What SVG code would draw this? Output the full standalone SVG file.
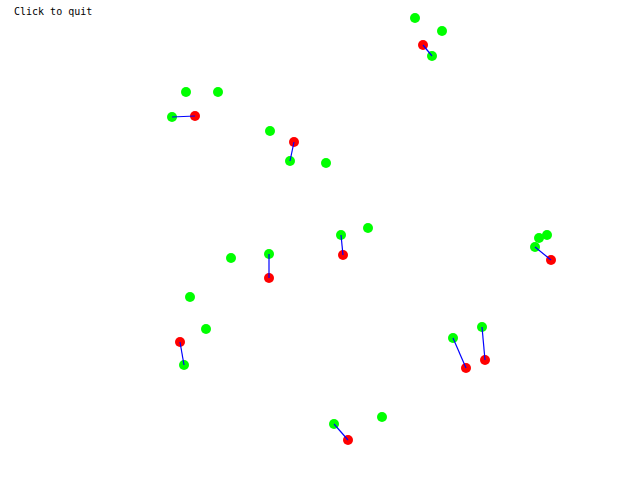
<svg xmlns="http://www.w3.org/2000/svg" width="640" height="480" viewBox="0 0 640 480">
<style>
.g{fill:#00ff00}
.r{fill:#ff0000}
.c line{stroke:#0000ff;stroke-width:1.2}
.t{font-family:"DejaVu Sans Mono","Liberation Mono",monospace;font-size:10px;fill:#000}
</style>
<rect width="640" height="480" fill="#fff"/>
<text class="t" x="14" y="14.5">Click to quit</text>
<g id="n1"><circle class="g" cx="415" cy="18" r="5"/></g>
<g id="n2"><circle class="g" cx="442" cy="31" r="5"/></g>
<g id="n3"><circle class="r" cx="423" cy="45" r="5"/></g>
<g id="n4"><circle class="g" cx="432" cy="56" r="5"/></g>
<g id="n5"><circle class="g" cx="186" cy="92" r="5"/></g>
<g id="n6"><circle class="g" cx="218" cy="92" r="5"/></g>
<g id="n7"><circle class="g" cx="172" cy="117" r="5"/></g>
<g id="n8"><circle class="r" cx="195" cy="116" r="5"/></g>
<g id="n9"><circle class="g" cx="270" cy="131" r="5"/></g>
<g id="n10"><circle class="r" cx="294" cy="142" r="5"/></g>
<g id="n11"><circle class="g" cx="290" cy="161" r="5"/></g>
<g id="n12"><circle class="g" cx="326" cy="163" r="5"/></g>
<g id="n13"><circle class="g" cx="231" cy="258" r="5"/></g>
<g id="n14"><circle class="g" cx="269" cy="254" r="5"/></g>
<g id="n15"><circle class="r" cx="269" cy="278" r="5"/></g>
<g id="n16"><circle class="g" cx="341" cy="235" r="5"/></g>
<g id="n17"><circle class="r" cx="343" cy="255" r="5"/></g>
<g id="n18"><circle class="g" cx="368" cy="228" r="5"/></g>
<g id="n19"><circle class="g" cx="547" cy="235" r="5"/></g>
<g id="n20"><circle class="g" cx="539" cy="238" r="5"/></g>
<g id="n21"><circle class="g" cx="535" cy="247" r="5"/></g>
<g id="n22"><circle class="r" cx="551" cy="260" r="5"/></g>
<g id="n23"><circle class="g" cx="190" cy="297" r="5"/></g>
<g id="n24"><circle class="g" cx="206" cy="329" r="5"/></g>
<g id="n25"><circle class="r" cx="180" cy="342" r="5"/></g>
<g id="n26"><circle class="g" cx="184" cy="365" r="5"/></g>
<g id="n27"><circle class="g" cx="453" cy="338" r="5"/></g>
<g id="n28"><circle class="r" cx="466" cy="368" r="5"/></g>
<g id="n29"><circle class="g" cx="482" cy="327" r="5"/></g>
<g id="n30"><circle class="r" cx="485" cy="360" r="5"/></g>
<g id="n31"><circle class="g" cx="334" cy="424" r="5"/></g>
<g id="n32"><circle class="r" cx="348" cy="440" r="5"/></g>
<g id="n33"><circle class="g" cx="382" cy="417" r="5"/></g>
<g id="connectors" class="c">
<line x1="423" y1="45" x2="432" y2="56"/>
<line x1="195" y1="116" x2="172" y2="117"/>
<line x1="294" y1="142" x2="290" y2="161"/>
<line x1="269" y1="278" x2="269" y2="254"/>
<line x1="343" y1="255" x2="341" y2="235"/>
<line x1="551" y1="260" x2="535" y2="247"/>
<line x1="180" y1="342" x2="184" y2="365"/>
<line x1="466" y1="368" x2="453" y2="338"/>
<line x1="485" y1="360" x2="482" y2="327"/>
<line x1="348" y1="440" x2="334" y2="424"/>
</g>
</svg>
